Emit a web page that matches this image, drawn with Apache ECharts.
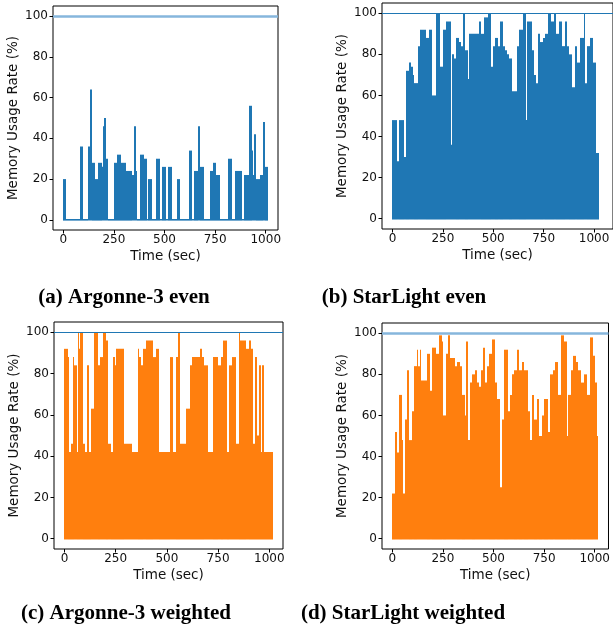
<!DOCTYPE html>
<html>
<head>
    <meta charset="utf-8">
    <title>Memory usage</title>
    <script src="https://cdn.jsdelivr.net/npm/echarts@6/dist/echarts.min.js"></script>
</head>
<body style="margin:0">
    <div id="main" style="width: 613px;height:632px;"></div>
    <script type="text/javascript">
        // tick labels
        var timeTicks = [0, 250, 500, 750, 1000];
        var rateTicks = [0, 20, 40, 60, 80, 100];

        // (a) Argonne-3 even : start time of each level, level value
        var argEvenTime = [0, 16, 82, 98, 123, 134, 140, 156, 159, 172, 189, 197, 202, 210, 221, 249, 266, 287, 308, 341, 349, 361, 366, 377, 397, 415, 418, 439, 456, 479, 487, 508, 516, 538, 562, 577, 620, 636, 648, 664, 667, 675, 697, 725, 738, 754, 774, 816, 833, 849, 885, 893, 918, 930, 938, 943, 951, 970, 987, 995, 1010];
        var argEvenRate = [20, 0, 36, 0, 36, 64, 28, 0, 20, 28, 26, 46, 50, 30, 0, 28, 32, 28, 24, 22, 46, 24, 0, 32, 30, 0, 20, 0, 30, 0, 26, 0, 26, 0, 20, 0, 34, 0, 24, 26, 46, 26, 0, 24, 28, 22, 0, 30, 0, 24, 0, 22, 56, 34, 22, 42, 20, 22, 48, 26, 0];

        // (b) StarLight even
        var starEvenTime = [0, 21, 33, 57, 67, 84, 92, 100, 108, 128, 136, 166, 180, 198, 215, 238, 251, 267, 289, 295, 305, 315, 330, 341, 351, 361, 374, 380, 431, 440, 456, 472, 489, 497, 508, 521, 533, 546, 559, 570, 580, 592, 620, 628, 648, 661, 669, 690, 702, 710, 723, 734, 746, 759, 772, 787, 800, 811, 825, 841, 854, 866, 877, 890, 903, 915, 928, 951, 955, 967, 980, 997, 1010, 1026];
        var starEvenRate = [48, 28, 48, 30, 72, 76, 74, 70, 66, 84, 92, 88, 92, 60, 100, 74, 92, 96, 36, 80, 78, 88, 86, 84, 100, 82, 68, 90, 96, 90, 98, 100, 74, 84, 88, 84, 96, 84, 82, 80, 78, 62, 84, 92, 100, 48, 96, 82, 70, 66, 90, 86, 88, 90, 100, 96, 100, 90, 96, 84, 96, 84, 80, 64, 84, 76, 88, 100, 66, 84, 88, 76, 32, 0];

        // (c) Argonne-3 weighted
        var argWeightTime = [0, 16, 24, 33, 41, 49, 60, 65, 73, 78, 89, 102, 109, 119, 130, 146, 163, 176, 190, 203, 214, 226, 236, 246, 254, 293, 330, 358, 366, 374, 385, 398, 434, 447, 463, 515, 532, 545, 556, 564, 593, 613, 623, 660, 670, 683, 699, 724, 748, 764, 776, 792, 805, 816, 837, 850, 857, 886, 899, 911, 922, 932, 940, 948, 959, 964, 976, 1016];
        var argWeightRate = [92, 88, 42, 46, 88, 84, 42, 100, 92, 100, 46, 42, 84, 42, 63, 100, 84, 88, 100, 96, 46, 42, 88, 84, 92, 46, 42, 92, 88, 84, 92, 96, 88, 92, 42, 88, 42, 88, 100, 46, 63, 84, 88, 92, 88, 84, 42, 88, 84, 88, 96, 42, 84, 88, 46, 100, 96, 92, 96, 92, 46, 88, 50, 84, 42, 84, 42, 0];

        // (d) StarLight weighted
        var starWeightTime = [0, 13, 25, 33, 46, 54, 64, 74, 84, 95, 107, 120, 128, 136, 144, 169, 185, 198, 218, 231, 243, 251, 264, 275, 284, 308, 320, 333, 346, 357, 366, 374, 385, 395, 407, 418, 428, 439, 448, 459, 467, 480, 493, 505, 516, 530, 543, 554, 570, 579, 592, 603, 615, 628, 641, 652, 669, 680, 690, 702, 713, 726, 739, 751, 767, 779, 792, 805, 821, 833, 849, 861, 870, 882, 893, 907, 918, 931, 948, 964, 975, 989, 1002, 1013, 1018];
        var starWeightRate = [22, 52, 42, 70, 48, 22, 58, 82, 48, 62, 84, 92, 84, 92, 77, 90, 72, 93, 90, 99, 96, 60, 90, 99, 88, 84, 86, 84, 70, 60, 96, 48, 76, 80, 82, 76, 74, 82, 93, 76, 84, 90, 97, 76, 68, 25, 58, 92, 62, 70, 80, 82, 92, 82, 86, 82, 62, 48, 70, 58, 68, 50, 60, 68, 52, 80, 82, 86, 70, 99, 96, 50, 70, 82, 89, 86, 82, 76, 80, 70, 98, 89, 76, 50, 0];

        // each level -> [start, end, value]
        function levels(t, v) {
            var out = [];
            for (var i = 0; i < t.length - 1; i++) out.push([t[i], t[i + 1], v[i]]);
            return out;
        }

        var panels = [
            { grid: { left: 53, top: 6, width: 225, height: 224 }, xMin: -50.5, xMax: 1060.5, data: levels(argEvenTime, argEvenRate), color: '#1f77b4', refColor: '#86b6dc', refWidth: 2.5, caption: '(a) Argonne-3 even', cx: 124, cy: 298 },
            { grid: { left: 382, top: 3, width: 233, height: 226 }, xMin: -52, xMax: 1094, data: levels(starEvenTime, starEvenRate), color: '#1f77b4', refColor: '#1f77b4', refWidth: 1, caption: '(b) StarLight even', cx: 404, cy: 298 },
            { grid: { left: 54, top: 322, width: 229, height: 227 }, xMin: -51, xMax: 1067, data: levels(argWeightTime, argWeightRate), color: '#ff7f0e', refColor: '#1f77b4', refWidth: 1, caption: '(c) Argonne-3 weighted', cx: 126, cy: 614 },
            { grid: { left: 382, top: 323, width: 227, height: 226 }, xMin: -51, xMax: 1068, data: levels(starWeightTime, starWeightRate), color: '#ff7f0e', refColor: '#86b6dc', refWidth: 2.5, caption: '(d) StarLight weighted', cx: 403, cy: 614 }
        ];

        var tickFont = { fontFamily: 'DejaVu Sans', fontSize: 12, color: '#111' };
        var nameFont = { fontFamily: 'DejaVu Sans', fontSize: 13.5, color: '#111' };

        function plain(v) { return String(v); }

        // one filled block per level, edges snapped to whole pixels so neighbours meet
        function makeRender(color) {
            return function (params, api) {
                var p0 = api.coord([api.value(0), api.value(2)]);
                var p1 = api.coord([api.value(1), 0]);
                var x0 = Math.round(p0[0]);
                var x1 = Math.round(p1[0]);
                var bottom = p1[1] + 0.8;
                var top = Math.min(p0[1], p1[1] - 0.8);
                return {
                    type: 'rect',
                    shape: { x: x0, y: top, width: x1 - x0, height: bottom - top },
                    style: { fill: color }
                };
            };
        }

        var option = {
            animation: false,
            grid: [], xAxis: [], yAxis: [], series: [], graphic: []
        };

        panels.forEach(function (p, i) {
            option.grid.push(Object.assign({ show: true, borderColor: '#000', borderWidth: 1, backgroundColor: '#fff' }, p.grid));
            option.xAxis.push({
                type: 'value', gridIndex: i, min: p.xMin, max: p.xMax,
                name: 'Time (sec)', nameLocation: 'middle', nameGap: 19, nameTextStyle: nameFont,
                axisLine: { show: false, onZero: false },
                axisTick: { show: true, length: 3.5, customValues: timeTicks, lineStyle: { color: '#000' } },
                axisLabel: Object.assign({ margin: 4, customValues: timeTicks, formatter: plain }, tickFont),
                splitLine: { show: false }
            });
            option.yAxis.push({
                type: 'value', gridIndex: i, min: -5, max: 105,
                name: 'Memory Usage Rate (%)', nameLocation: 'middle', nameGap: 33, nameRotate: 90, nameTextStyle: nameFont,
                axisLine: { show: false, onZero: false },
                axisTick: { show: true, length: 3.5, customValues: rateTicks, lineStyle: { color: '#000' } },
                axisLabel: Object.assign({ margin: 5, customValues: rateTicks, formatter: plain }, tickFont),
                splitLine: { show: false }
            });
            option.series.push({
                type: 'custom', xAxisIndex: i, yAxisIndex: i, clip: true,
                renderItem: makeRender(p.color),
                encode: { x: [0, 1], y: 2 },
                data: p.data,
                markLine: {
                    silent: true, symbol: 'none', label: { show: false },
                    lineStyle: { color: p.refColor, width: p.refWidth, type: 'solid' },
                    data: [{ yAxis: 100 }]
                }
            });
            option.graphic.push({
                type: 'text', x: p.cx, y: p.cy,
                style: {
                    text: p.caption, align: 'center', verticalAlign: 'middle',
                    font: 'bold 21px "Liberation Serif"', fill: '#000'
                }
            });
        });

        var myChart = echarts.init(document.getElementById('main'));
        myChart.setOption(option);
    </script>
</body>
</html>
